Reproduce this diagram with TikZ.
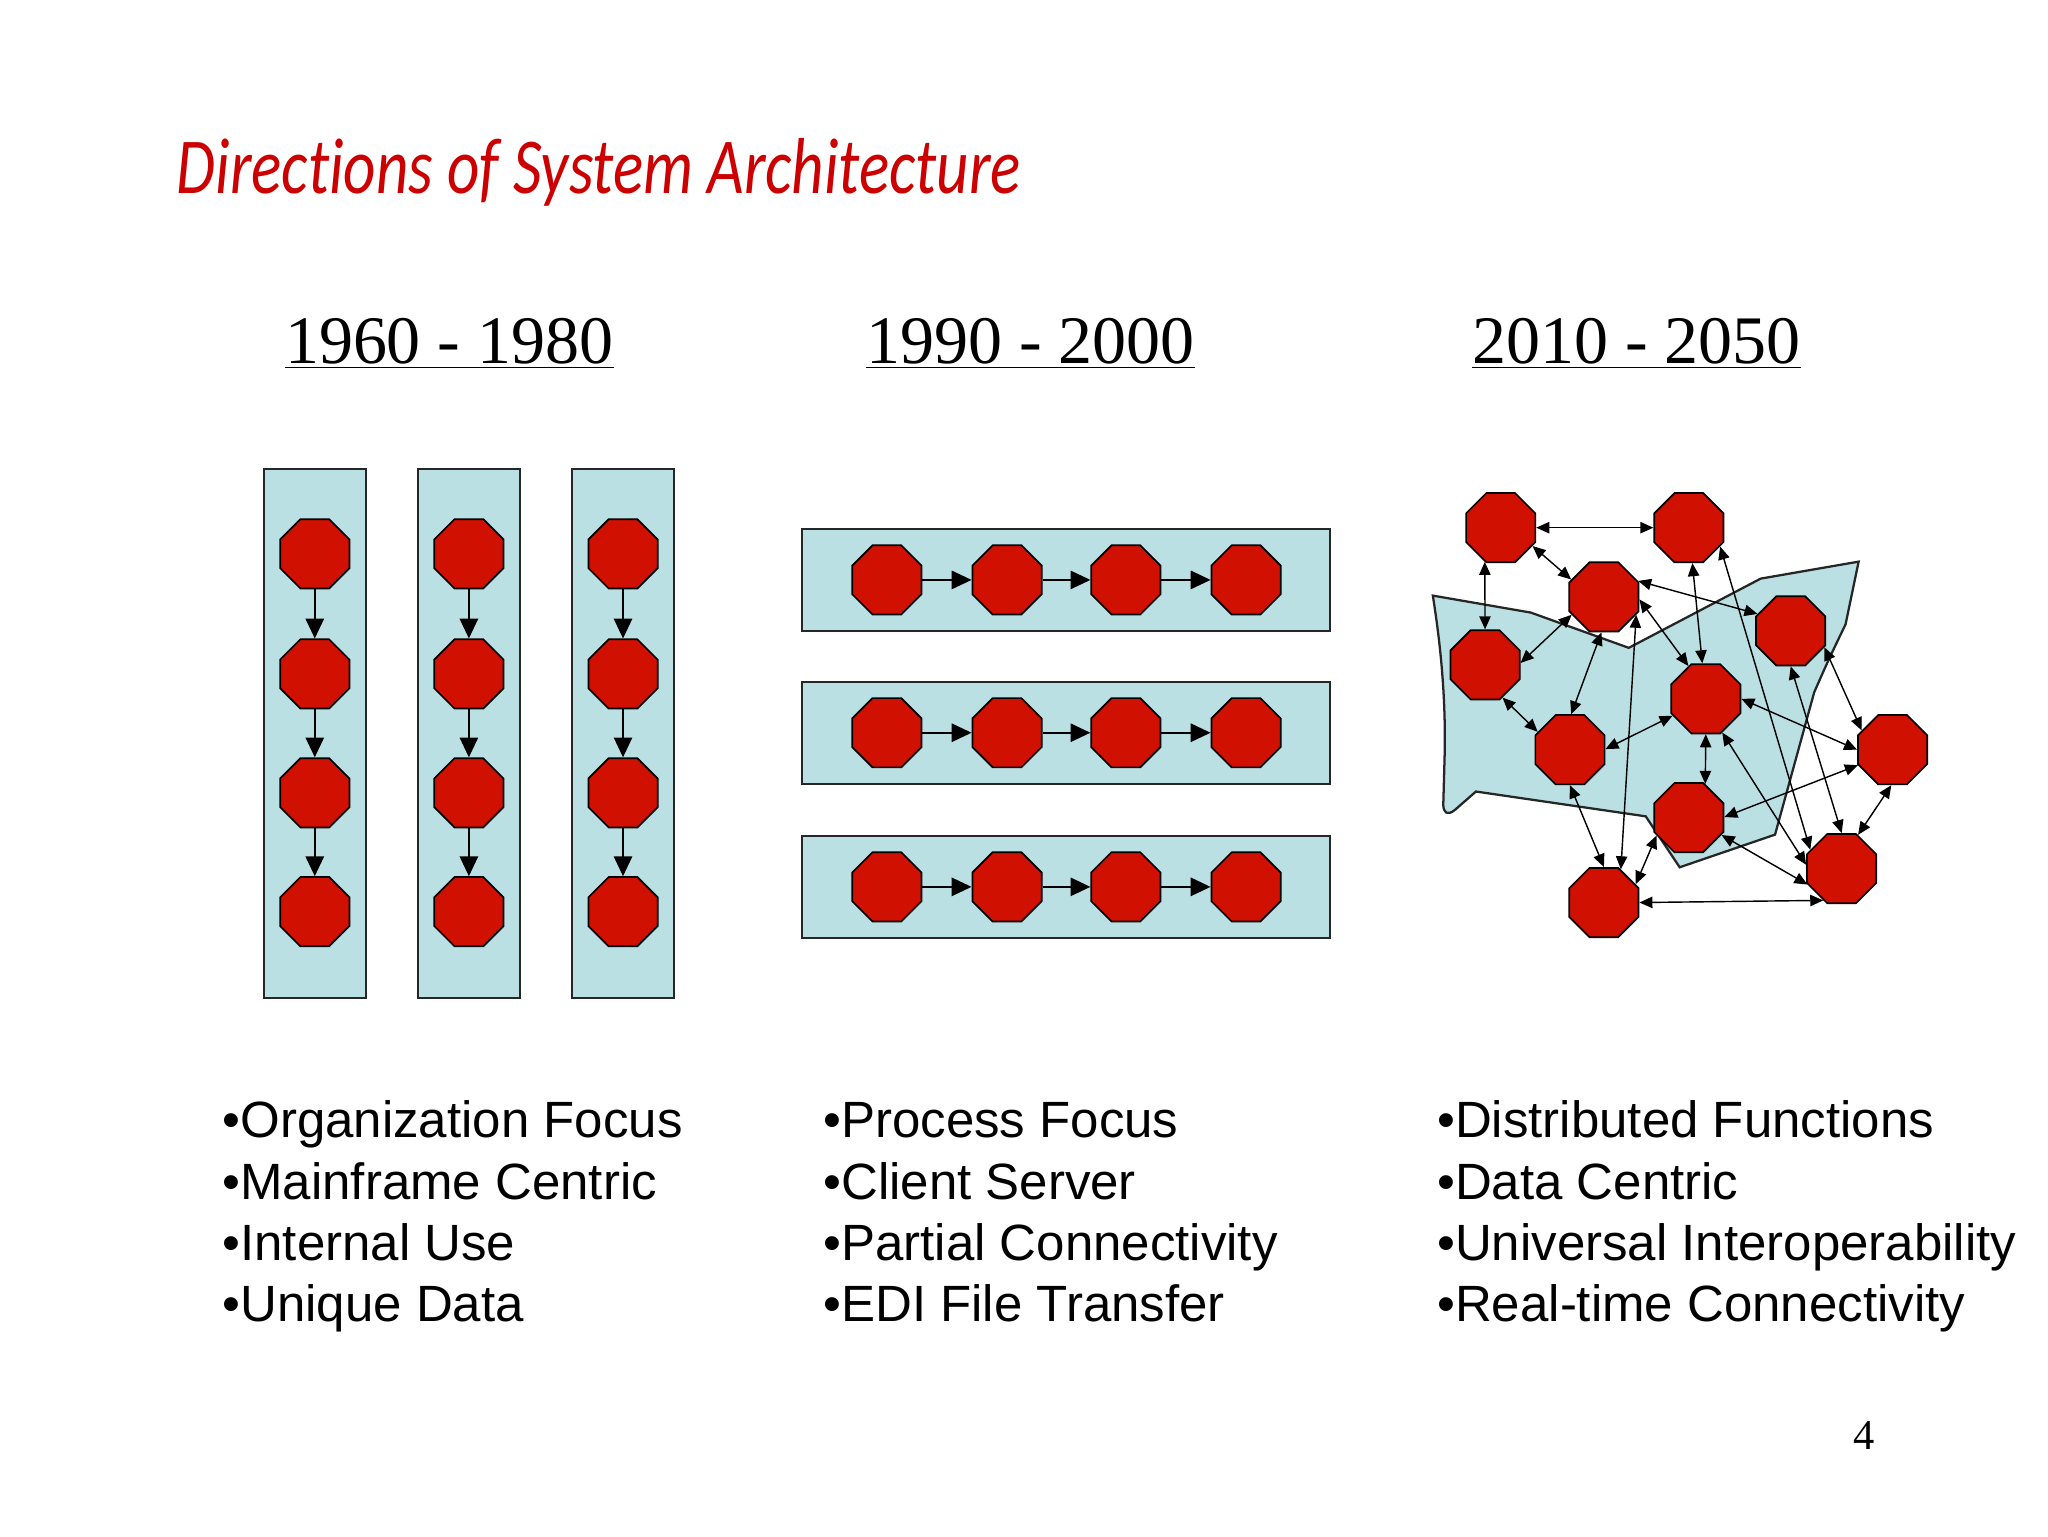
\documentclass[tikz,border=0pt]{standalone}
\usepackage{fontspec}
\setmainfont{Liberation Serif}
\newfontfamily\listfont{Liberation Sans}
\newfontfamily\slidefont[Ligatures=NoCommon]{Carlito}
\usepackage{graphicx}
\usepackage{tikz}
\usetikzlibrary{arrows.meta,shapes.geometric,positioning}
\definecolor{slidered}{RGB}{204,0,0}
\definecolor{octred}{RGB}{208,16,0}
\definecolor{lanefill}{RGB}{187,224,227}
\tikzstyle{octo} = [regular polygon, regular polygon sides=8, draw=black, line width=0.6pt, fill=octred, minimum size=0.93cm, inner sep=0pt]
\tikzstyle{lane} = [draw=black!85, line width=0.8pt, fill=lanefill]
\tikzstyle{flow} = [-{Triangle[length=7pt,width=6.5pt]}, line width=0.55pt]
\tikzstyle{mesh} = [{Triangle[length=4.6pt,width=4pt]}-{Triangle[length=4.6pt,width=4pt]}, line width=0.5pt]
\tikzstyle{periodhead} = [font=\fontsize{24}{28}\selectfont, anchor=base]
\tikzstyle{bulletline} = [font=\listfont\fontsize{18}{21.6}\selectfont, anchor=base west, inner sep=0pt]

\begin{document}
\begin{tikzpicture}[x=0.0162cm, y=-0.0162cm]
\useasboundingbox (0,0) rectangle (1568,1176);

% Title and periods
\node[font=\slidefont\itshape\fontsize{28}{34}\selectfont, text=slidered, anchor=base west, inner sep=0pt] (title) at (135,148) {\scalebox{0.795}[1]{Directions of System Architecture}};
\node[periodhead] (era1) at (344,278) {\underline{1960 - 1980}};
\node[periodhead] (era2) at (789,278) {\underline{1990 - 2000}};
\node[periodhead] (era3) at (1253,278) {\underline{2010 - 2050}};

% 1960-1980: vertical silos
\foreach \c/\x in {1/241,2/359,3/477} {
  \draw[lane] (\x-39,359) rectangle (\x+39,764);
  \foreach \r/\y in {1/424,2/516,3/607,4/698}
    \node[octo] (v\c\r) at (\x,\y) {};
  \foreach \r/\s in {1/2,2/3,3/4}
    \draw[flow] (v\c\r) -- (v\c\s);
}

% 1990-2000: horizontal processes
\foreach \c/\y in {1/444,2/561,3/679} {
  \draw[lane] (614,\y-39) rectangle (1018,\y+39);
  \foreach \r/\x in {1/679,2/771,3/862,4/954}
    \node[octo] (h\c\r) at (\x,\y) {};
  \foreach \r/\s in {1/2,2/3,3/4}
    \draw[flow] (h\c\r) -- (h\c\s);
}

% 2010-2050: network
\draw[lane] (1097,456) -- (1172,469) -- (1247,496) -- (1348,443) -- (1423,430)
  -- (1413,478) .. controls (1400,505) .. (1389,530) -- (1359,639) -- (1286,664)
  -- (1260,625) -- (1130,606) -- (1114,620) .. controls (1108,625) and (1105,622) .. (1105,616)
  -- (1106,580) .. controls (1107,540) and (1104,500) .. cycle;
\foreach \n/\x/\y in {1/1149/404, 2/1293/404, 3/1228/457, 4/1371/483, 5/1137/509, 6/1306/535,
  7/1202/574, 8/1449/574, 9/1293/626, 10/1410/665, 11/1228/691}
  \node[octo] (n\n) at (\x,\y) {};
\foreach \a/\b in {n1/n2, n1.-30/n3.152, n1.-115/n5.north, n2/n6, n2.-31/n10.149,
  n3.25/n4.153, n3.-4/n6.118, n3.-151/n5.3, n3.-94/n7.88, n3.-29/n11.63,
  n5.-62/n7.151, n7.1/n6.-153, n7.south/n11.north, n11.30/n9.-151, n11.east/n10.-120,
  n6.south/n9.64, n6.east/n8.west, n6.-64/n10.174, n9.1/n8.-156, n9.-28/n10.-155,
  n4.south/n10.north, n4.-26/n8.148, n8.-92/n10.64}
  \draw[mesh] (\a) -- (\b);

% Characteristics
\foreach \t [count=\i from 0] in {Organization Focus, Mainframe Centric, Internal Use, Unique Data}
  \node[bulletline] (orgpt\i) at (170,{871+47*\i}) {•\t};
\foreach \t [count=\i from 0] in {Process Focus, Client Server, Partial Connectivity, EDI File Transfer}
  \node[bulletline] (procpt\i) at (630,{871+47*\i}) {•\t};
\foreach \t [count=\i from 0] in {Distributed Functions, Data Centric, Universal Interoperability, Real-time Connectivity}
  \node[bulletline] (distpt\i) at (1100,{871+47*\i}) {•\t};

\node[font=\fontsize{15}{18}\selectfont, anchor=base] (pagenum) at (1427,1110) {4};
\end{tikzpicture}
\end{document}
